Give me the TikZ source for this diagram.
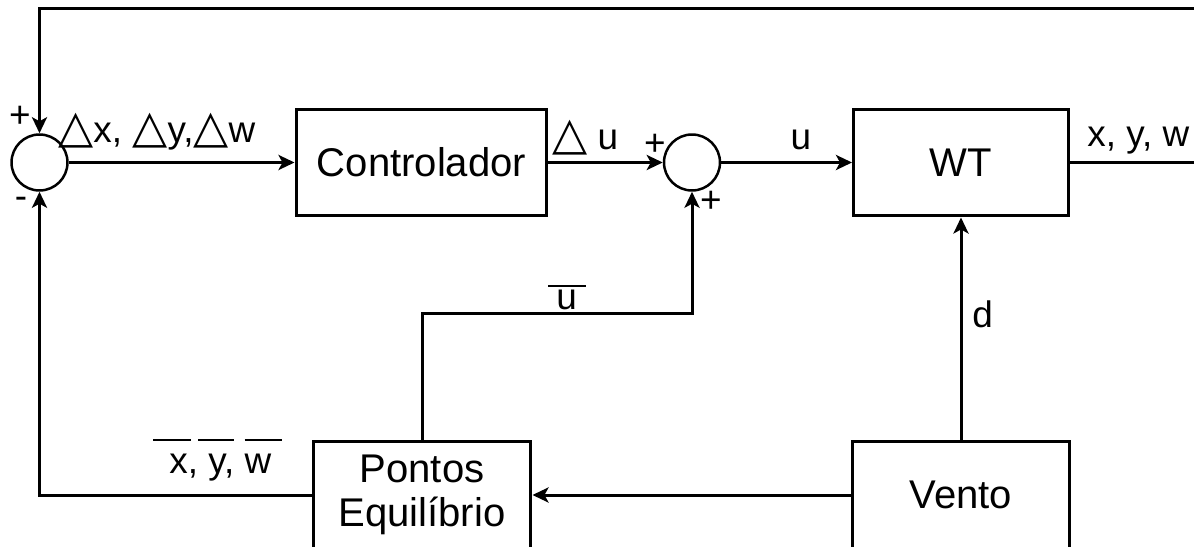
\documentclass[tikz,border=0pt]{standalone}
\usepackage{fontspec}
\setmainfont{Liberation Sans}
\newfontfamily\symfont{DejaVu Sans}
\usetikzlibrary{arrows.meta}

\newcommand{\tri}{{\symfont\fontsize{26}{30}\selectfont\char"25B3}}
\newcommand{\barat}[2]{\rlap{\hspace{#1}\raisebox{0.64cm}{\rule{#2}{0.05cm}}}}
\newcommand{\ubar}[2]{\rlap{\hspace{#1}\raisebox{0.46cm}{\rule{#2}{0.05cm}}}}

\begin{document}
\begin{tikzpicture}[
x=0.02cm, y=-0.02cm,
block/.style={
    draw,
    line width=0.06cm,
    minimum height=2.14cm,
    inner sep=0pt,
    align=center,
    font=\fontsize{22.8}{25}\selectfont
},
sum/.style={draw, circle, line width=0.05cm, minimum size=1.12cm, inner sep=0pt},
lbl/.style={inner sep=0pt, font=\fontsize{21}{25}\selectfont},
sgn/.style={inner sep=0pt, font=\fontsize{21}{23}\selectfont},
wire/.style={line width=0.06cm},
>={Stealth[length=0.32cm, width=0.3cm, inset=0.08cm]}
]

\clip (0,0) rectangle (1194,547);

\node[sum] (sum1) at (39.5,162.5) {};
\node[block, minimum width=5.02cm] (ctrl) at (421.5,162.5) {Controlador};
\node[sum] (sum2) at (692,162.5) {};
\node[block, minimum width=4.3cm] (wt) at (961,162.5) {WT};

\node[block, minimum width=4.36cm] (eq) at (422,495) {Pontos\\Equilíbrio};
\node[block, minimum width=4.34cm] (wind) at (961,495) {Vento};

\coordinate (loop) at (1215,9);

\draw[wire,->] (sum1) -- (ctrl);
\draw[wire,->] (ctrl) -- (sum2);
\draw[wire,->] (sum2) -- (wt);
\draw[wire,->] (wt.east) -| (loop) -| (sum1.north);
\draw[wire,->] (wind) -- (wt);
\draw[wire,->] (wind) -- (eq);
\draw[wire,->] (eq.north) -- ++(0,-127) -| (sum2.south);
\draw[wire,->] (eq.west) -| (sum1.south);

% signal labels
\node[lbl, anchor=base west] (dxlbl) at (58,143) {\tri x, \tri y,\tri w};
\node[lbl, anchor=base west] (dulbl) at (552,150) {\tri\ u};
\node[lbl, anchor=base] (ulbl) at (801,150) {u};
\node[lbl, anchor=base west] (ylbl) at (1087,147) {x, y, w};
\node[lbl, anchor=base west] (dlbl) at (972,328) {d};
\node[lbl, anchor=base west] (ueq) at (556,310) {\ubar{-0.16cm}{0.76cm}u};
\node[lbl, anchor=base west] (xeq) at (169,473)
{\barat{-0.32cm}{0.76cm}x, \barat{-0.2cm}{0.72cm}y, \barat{0cm}{0.74cm}w};

% signs
\node[sgn] (p1) at (20,117) {+};
\node[sgn] (m1) at (21,203) {-};
\node[sgn] (p2) at (655,145) {+};
\node[sgn] (p3) at (711,202) {+};

\end{tikzpicture}
\end{document}
